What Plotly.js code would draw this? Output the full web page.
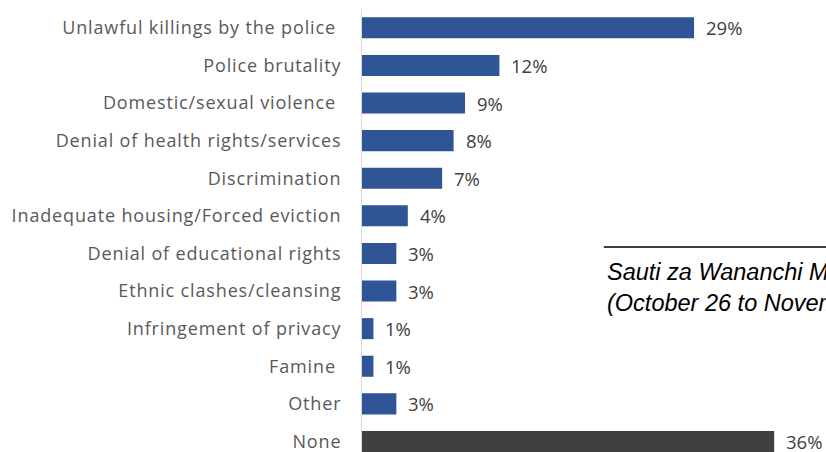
<!DOCTYPE html>
<html>
<head>
<meta charset="utf-8">
<script src="https://cdn.plot.ly/plotly-3.0.1.min.js"></script>
<style>
html,body{margin:0;padding:0;background:#fff;}
#chart{width:826px;height:452px;}
#chart .ytick text{letter-spacing:0.85px;}
</style>
</head>
<body>
<div id="chart"></div>
<script>
const categories = [
  "Unlawful killings by the police\u00a0",
  "Police brutality",
  "Domestic/sexual violence\u00a0",
  "Denial of health rights/services",
  "Discrimination",
  "Inadequate housing/Forced eviction",
  "Denial of educational rights",
  "Ethnic clashes/cleansing",
  "Infringement of privacy",
  "Famine\u00a0",
  "Other",
  "None"
];
const values = [29, 12, 9, 8, 7, 4, 3, 3, 1, 1, 3, 36];
const valueLabels = values.map(v => v + "%");
const barColors = categories.map(c => c === "None" ? "#404040" : "#2F5597");
const noteLines = ["Sauti za Wananchi Mobile Panel Survey", "(October 26 to November 2020)"];

const trace = {
  type: "bar",
  orientation: "h",
  y: categories,
  x: values,
  marker: {color: barColors, line: {width: 0}},
  hoverinfo: "none"
};

const annotations = categories.map((c, i) => ({
  x: values[i], y: c, xref: "x", yref: "y",
  text: valueLabels[i], showarrow: false,
  xanchor: "left", yanchor: "middle", xshift: 11, borderpad: 0,
  font: {family: "Open Sans, sans-serif", size: 18.5, color: "#404040"}
}));
annotations.push({
  x: 0.5306, y: 0.372, xref: "paper", yref: "paper",
  text: noteLines.join("<br>"), showarrow: false, align: "left",
  xanchor: "left", yanchor: "middle",
  font: {family: "Liberation Sans, Arial, sans-serif", size: 23.5, color: "#000", style: "italic"}
});

const layout = {
  width: 826, height: 452,
  margin: {l: 362, r: 6, t: 9, b: 0, pad: 0},
  paper_bgcolor: "#fff", plot_bgcolor: "#fff",
  showlegend: false,
  bargap: 0.44,
  xaxis: {range: [0, 40], visible: false, fixedrange: true},
  yaxis: {
    type: "category",
    range: [11.28, -0.5], autorange: false,
    showline: true, linecolor: "#d9d9d9", linewidth: 1,
    showgrid: false, zeroline: false, ticks: "",
    ticklabelstandoff: 16,
    tickfont: {family: "Open Sans, sans-serif", size: 18, color: "#595959"}
  },
  shapes: [{
    type: "line", xref: "paper", yref: "paper",
    x0: 0.528, x1: 1.1, y0: 0.463, y1: 0.463,
    line: {color: "#000", width: 1.5}
  }],
  annotations: annotations
};

Plotly.newPlot("chart", [trace], layout, {staticPlot: true, displayModeBar: false});
</script>
</body>
</html>
